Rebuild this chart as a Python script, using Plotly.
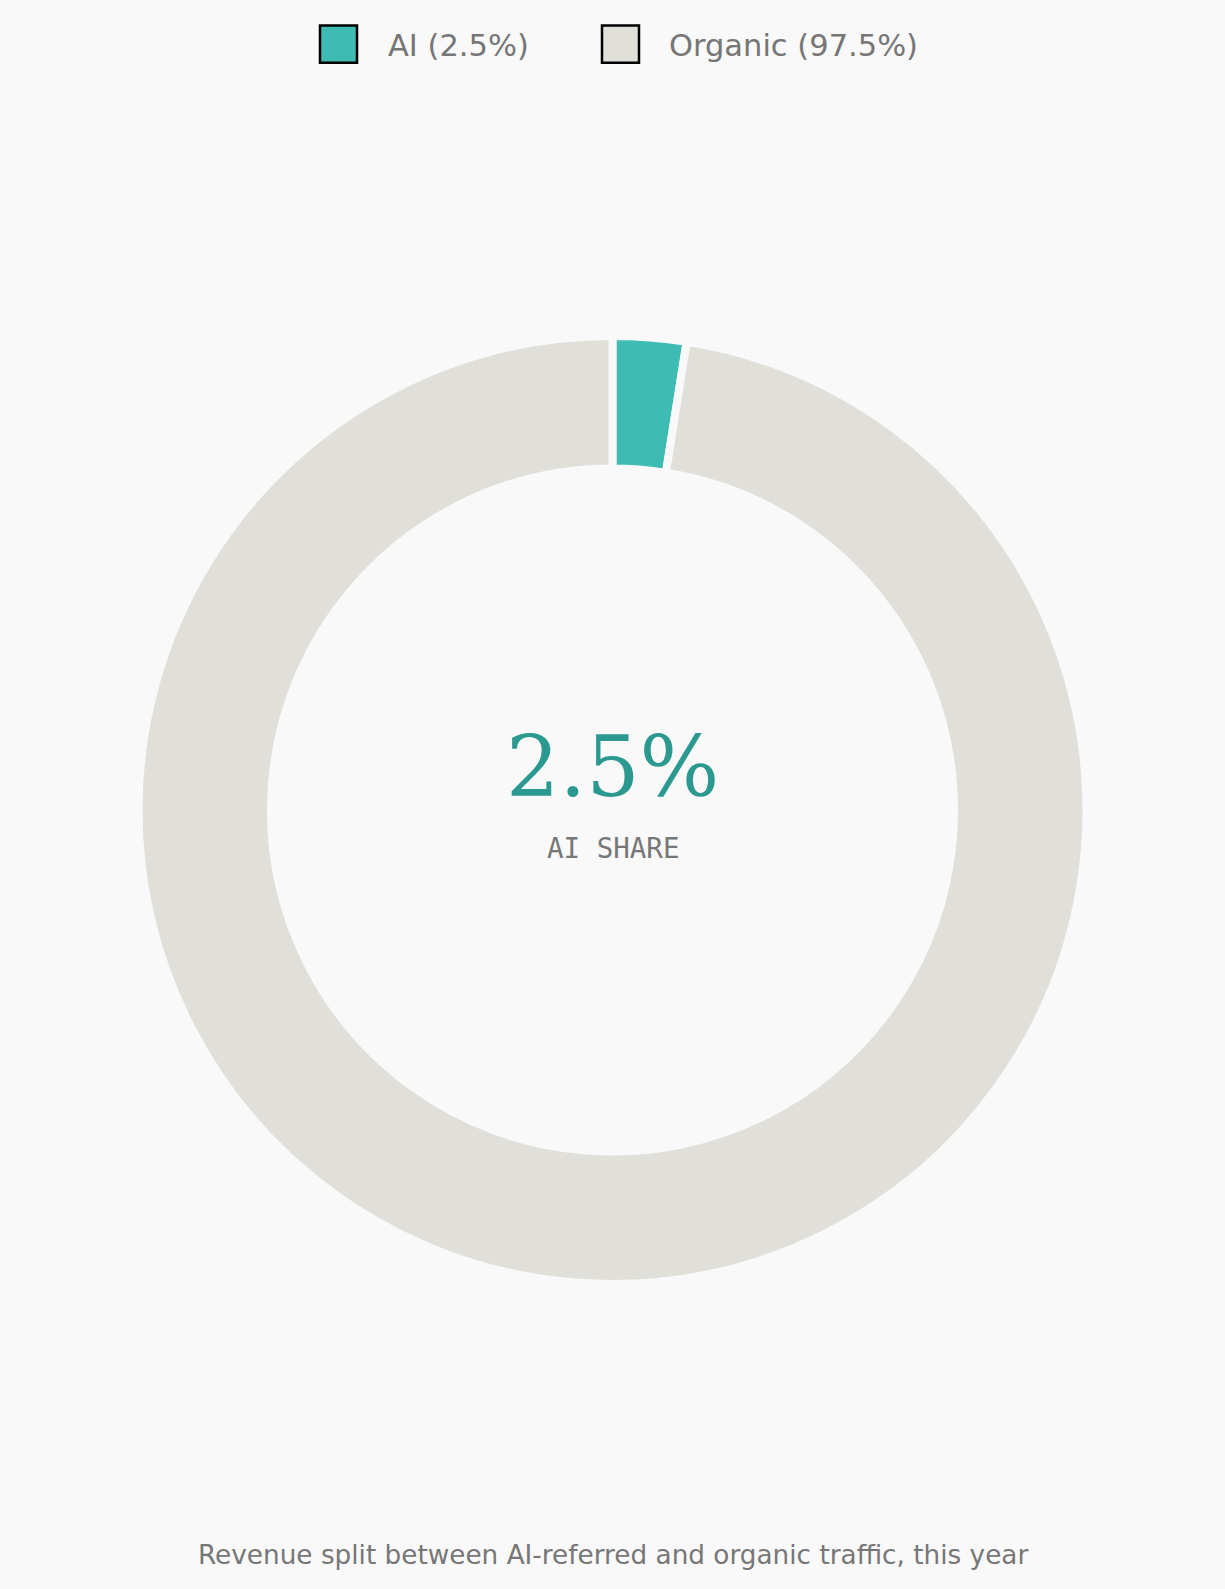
import plotly.graph_objects as go

# ---- data ----
labels = ["AI", "Organic"]
values = [2.5, 97.5]
colors = ["#3ebcb4", "#e0dfda"]
center_value = "2.5%"
center_label = "AI SHARE"
caption = "Revenue split between AI-referred and organic traffic, this year"

# ---- geometry ----
W, H = 1225, 1589
BG = "#f9f9f9"
cx, cy = 612.5, 810.0          # pixel centre (from top)
R = 474.0                      # outer radius incl. half edge
r_in = 341.6                   # inner radius
edge = 8

fig = go.Figure()
fig.add_trace(go.Pie(
    labels=labels,
    values=values,
    sort=False,
    direction="clockwise",
    rotation=0,
    hole=r_in / R,
    textinfo="none",
    hoverinfo="label+percent",
    showlegend=False,
    marker=dict(colors=colors, line=dict(color=BG, width=edge)),
    domain=dict(
        x=[(cx - R) / W, (cx + R) / W],
        y=[(H - cy - R) / H, (H - cy + R) / H],
    ),
))

def py(y_px):
    return (H - y_px) / H

annotations = [
    dict(text=center_value, x=0.5, y=py(767), xref="paper", yref="paper",
         xanchor="center", yanchor="middle", showarrow=False,
         font=dict(family="DejaVu Serif", size=84, color="#2b9990")),
    dict(text=center_label, x=0.5, y=py(848), xref="paper", yref="paper",
         xanchor="center", yanchor="middle", showarrow=False,
         font=dict(family="DejaVu Sans Mono", size=27.5, color="#777777")),
    dict(text=caption, x=0.5, y=py(1555), xref="paper", yref="paper",
         xanchor="center", yanchor="middle", showarrow=False,
         font=dict(family="DejaVu Sans", size=26.3, color="#777777")),
]

shapes = []
legend_box_x = [320, 602]
legend_text_x = [386, 667]
for i, (lab, val) in enumerate(zip(labels, values)):
    shapes.append(dict(
        type="rect", xref="paper", yref="paper",
        x0=legend_box_x[i] / W, x1=(legend_box_x[i] + 37) / W,
        y0=py(62.8), y1=py(25.5),
        fillcolor=colors[i], line=dict(color="#000000", width=2.5),
    ))
    annotations.append(dict(
        text=f"{lab} ({val}%)", x=legend_text_x[i] / W, y=py(45),
        xref="paper", yref="paper", xanchor="left", yanchor="middle",
        showarrow=False,
        font=dict(family="DejaVu Sans", size=30.5, color="#767676"),
    ))

fig.update_layout(
    width=W, height=H,
    margin=dict(l=0, r=0, t=0, b=0),
    paper_bgcolor=BG, plot_bgcolor=BG,
    annotations=annotations,
    shapes=shapes,
    showlegend=False,
)

fig.write_html(
    "out.html",
    config={"displayModeBar": False},
    post_script="document.body.style.margin='0';document.body.style.background='" + BG + "';",
)
